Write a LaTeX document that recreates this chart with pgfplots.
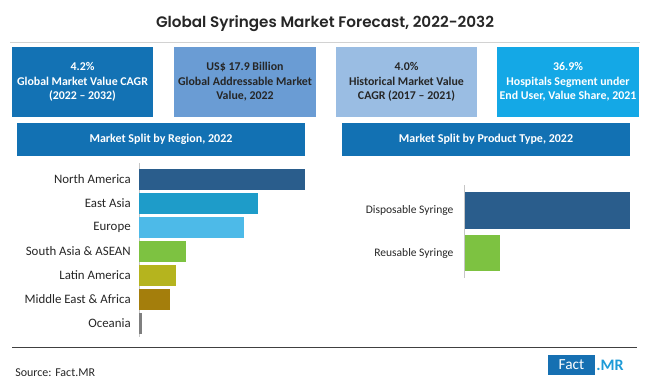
\documentclass[border=0pt]{standalone}
\usepackage{pgfplots}
\pgfplotsset{compat=1.18}
\usepackage{fontspec}
\setmainfont{Carlito}
\newfontfamily\titlefont{Poppins}[UprightFont={* SemiBold}]
\definecolor{boxA}{HTML}{1372B4}
\definecolor{boxB}{HTML}{6A9CD4}
\definecolor{boxC}{HTML}{9ABDE3}
\definecolor{boxD}{HTML}{14A8E6}
\definecolor{banner}{HTML}{1271B3}
\definecolor{cNA}{HTML}{2A5D8C}
\definecolor{cEA}{HTML}{1E9CC9}
\definecolor{cEU}{HTML}{4DBAE8}
\definecolor{cSA}{HTML}{7DC241}
\definecolor{cLA}{HTML}{B5B41E}
\definecolor{cME}{HTML}{A47E0C}
\definecolor{cOC}{HTML}{7F7F7F}
\definecolor{txt}{HTML}{262626}
\definecolor{logoA}{HTML}{1670B2}
\definecolor{logoB}{HTML}{1E9BD7}
\begin{document}
\begin{tikzpicture}[x=0.75pt,y=-0.75pt]
\path[use as bounding box] (0,0) rectangle (650,385);
% title
\node[anchor=base, text=txt, font=\titlefont\fontsize{11.4pt}{13pt}\selectfont, inner sep=0pt] at (325,28) {Global Syringes Market Forecast, 2022-2032};
\draw[gray!35, line width=0.75pt] (10,42.7) -- (640,42.7);
% KPI boxes
\fill[boxA] (12,47) rectangle (153,117);
\fill[boxB] (174,47) rectangle (316,117);
\fill[boxC] (336,47) rectangle (477,117);
\fill[boxD] (497,47) rectangle (639,117);
\tikzset{kpi/.style={align=center, font=\bfseries\fontsize{8.9pt}{10.9pt}\selectfont, inner sep=0pt}}
\node[kpi, text=white] at (82.5,82) {4.2\%\\Global Market Value CAGR\\(2022 – 2032)};
\node[kpi, text=txt] at (245,82) {US\$ 17.9 Billion\\Global Addressable Market\\Value, 2022};
\node[kpi, text=txt] at (406.5,82) {4.0\%\\Historical Market Value\\CAGR (2017 – 2021)};
\node[kpi, text=white] at (568,82) {36.9\%\\Hospitals Segment under\\End User, Value Share, 2021};
% banners
\fill[banner] (17,123) rectangle (305,156);
\fill[banner] (342,123) rectangle (630,156);
\node[font=\bfseries\fontsize{9pt}{11pt}\selectfont, text=white] at (161,139.5) {Market Split by Region, 2022};
\node[font=\bfseries\fontsize{9pt}{11pt}\selectfont, text=white] at (486,139.5) {Market Split by Product Type, 2022};
% region chart
\begin{axis}[
  at={(104.625pt,-252.75pt)}, anchor=south west,
  scale only axis, width=124.5pt, height=130.5pt,
  xbar, bar width=0.875,
  xmin=0, xmax=33, ymin=-0.683, ymax=6.567, y dir=reverse,
  axis x line=none, axis y line=left,
  axis line style={-}, y axis line style={-, draw=gray!45, line width=0.75pt},
  ytick={0,...,6},
  yticklabels={North America,East Asia,Europe,South Asia \& ASEAN,Latin America,Middle East \& Africa,Oceania},
  major tick length=0pt,
  yticklabel style={font=\fontsize{9.65pt}{11pt}\selectfont, text=txt, inner sep=0pt, xshift=-6.4pt},
  clip=false,
]
\addplot[fill=cNA, draw=none, bar shift=0pt] coordinates {(32.9,0)};
\addplot[fill=cEA, draw=none, bar shift=0pt] coordinates {(23.5,1)};
\addplot[fill=cEU, draw=none, bar shift=0pt] coordinates {(20.8,2)};
\addplot[fill=cSA, draw=none, bar shift=0pt] coordinates {(9.2,3)};
\addplot[fill=cLA, draw=none, bar shift=0pt] coordinates {(7.2,4)};
\addplot[fill=cME, draw=none, bar shift=0pt] coordinates {(6.1,5)};
\addplot[fill=cOC, draw=none, bar shift=0pt] coordinates {(0.4,6)};
\end{axis}
% product type chart
\begin{axis}[
  at={(348.525pt,-208.5pt)}, anchor=south west,
  scale only axis, width=124.5pt, height=69.75pt,
  xbar, bar width=0.86,
  xmin=0, xmax=82.85, ymin=-0.593, ymax=1.586, y dir=reverse,
  axis x line=none, axis y line=left,
  axis line style={-}, y axis line style={-, draw=gray!45, line width=0.75pt},
  ytick={0,1},
  yticklabels={Disposable Syringe,Reusable Syringe},
  major tick length=0pt,
  yticklabel style={font=\fontsize{8.65pt}{10pt}\selectfont, text=txt, inner sep=0pt, xshift=-8.25pt},
  clip=false,
]
\addplot[fill=cNA, draw=none, bar shift=0pt] coordinates {(82.5,0)};
\addplot[fill=cSA, draw=none, bar shift=0pt] coordinates {(17.5,1)};
\end{axis}
% footer
\draw[black!75, line width=0.75pt] (12,347) -- (637,347);
\node[anchor=base west, inner sep=0pt, text=txt, font=\fontsize{9pt}{11pt}\selectfont] at (15,376) {Source: Fact.MR};
\fill[logoA] (548,355) rectangle (595,375);
\node[text=white, font=\fontsize{11.5pt}{13pt}\selectfont, inner sep=0pt] at (571.5,365) {Fact};
\node[anchor=west, text=logoB, font=\bfseries\fontsize{12pt}{13pt}\selectfont, inner sep=0pt] at (596,365) {.MR};
\end{tikzpicture}
\end{document}
